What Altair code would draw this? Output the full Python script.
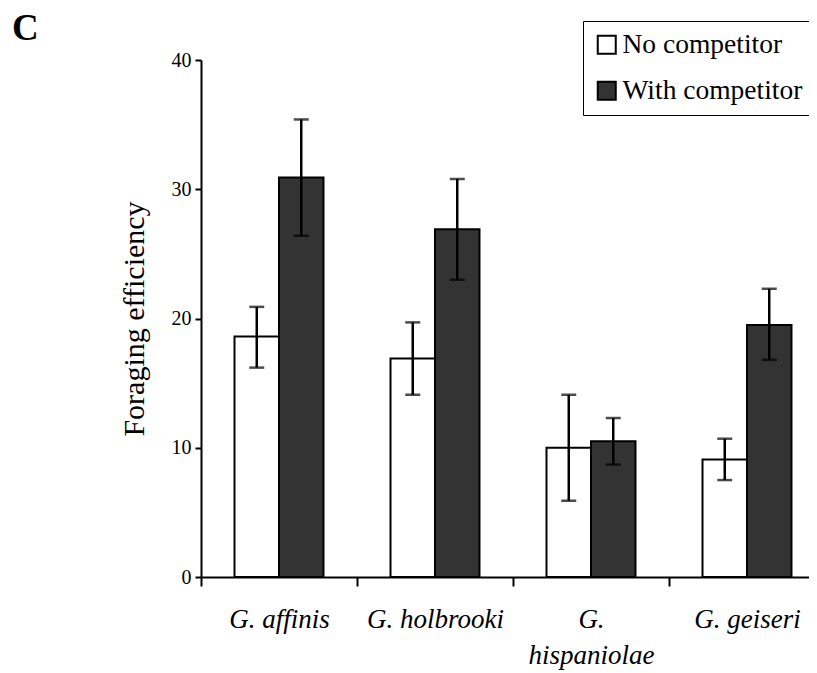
import altair as alt
import pandas as pd

species = ["G. affinis", "G. holbrooki", "G. hispaniolae", "G. geiseri"]
groups = ["No competitor", "With competitor"]
no_comp = [18.6, 16.9, 10.0, 9.1]
no_comp_lo = [16.2, 14.1, 5.9, 7.5]
no_comp_hi = [20.9, 19.7, 14.1, 10.7]
with_comp = [30.9, 26.9, 10.5, 19.5]
with_comp_lo = [26.4, 23.0, 8.7, 16.8]
with_comp_hi = [35.4, 30.8, 12.3, 22.3]
y_ticks = [0, 10, 20, 30, 40]

rows = []
for i, s in enumerate(species):
    rows.append(dict(species=s, group=groups[0], value=no_comp[i], lo=no_comp_lo[i], hi=no_comp_hi[i]))
    rows.append(dict(species=s, group=groups[1], value=with_comp[i], lo=with_comp_lo[i], hi=with_comp_hi[i]))
df = pd.DataFrame(rows)

FONT = "Liberation Serif"

x_enc = alt.X(
    "species:N", sort=species,
    scale=alt.Scale(paddingInner=0, paddingOuter=0, range=[0, 624]),
    axis=alt.Axis(
        title=None, labelAngle=0, tickBand="extent", labelFontStyle="italic",
        labelFontSize=27, labelPadding=20, tickSize=9, labelLineHeight=36,
        labelExpr="datum.label == 'G. hispaniolae' ? ['G.', 'hispaniolae'] : datum.label",
    ),
)
xoff = alt.XOffset("group:N", sort=groups, scale=alt.Scale(paddingInner=0, paddingOuter=0.753))

base = alt.Chart(df)

bars = base.mark_bar(stroke="black", strokeWidth=2).encode(
    x=x_enc,
    xOffset=xoff,
    y=alt.Y(
        "value:Q", scale=alt.Scale(domain=[0, 40]),
        axis=alt.Axis(
            title="Foraging efficiency", values=y_ticks, tickSize=6, labelFontSize=20,
            labelPadding=4, titleFontSize=30, titleFontWeight="normal", titlePadding=22,
        ),
    ),
    fill=alt.Fill(
        "group:N", sort=groups,
        scale=alt.Scale(domain=groups, range=["white", "#333333"]),
        legend=alt.Legend(
            title=None, orient="none", legendX=382, legendY=-39, symbolType="square",
            symbolSize=324, symbolStrokeColor="black", symbolStrokeWidth=2,
            labelFont=FONT, labelFontSize=27.5, labelColor="black", strokeColor="black",
            padding=10, rowPadding=17, labelOffset=2, labelLimit=400,
        ),
    ),
)

rule = base.mark_rule(color="black", strokeWidth=2.5).encode(
    x=alt.X("species:N", sort=species), xOffset=alt.XOffset("group:N", sort=groups),
    y="lo:Q", y2="hi:Q",
)
cap_lo = base.mark_tick(color="black", thickness=2.5, size=15, orient="horizontal").encode(
    x=alt.X("species:N", sort=species), xOffset=alt.XOffset("group:N", sort=groups), y="lo:Q",
)
cap_hi = base.mark_tick(color="black", thickness=2.5, size=15, orient="horizontal").encode(
    x=alt.X("species:N", sort=species), xOffset=alt.XOffset("group:N", sort=groups), y="hi:Q",
)

chart = alt.layer(bars, rule, cap_lo, cap_hi).properties(
    width=608, height=517,
    autosize=alt.AutoSizeParams(type="none"),
    padding={"left": 193, "top": 52, "right": 0, "bottom": 96},
    title=alt.TitleParams(
        text="C", anchor="start", frame="group", font=FONT, fontSize=37,
        fontWeight="bold", color="black", dx=-189, dy=31,
    ),
).configure_axis(
    labelFont=FONT, titleFont=FONT, labelColor="black", titleColor="black",
    domainColor="black", tickColor="black", domainWidth=2, tickWidth=2, grid=False,
).configure_view(stroke=None)

chart.save("out.html", embed_options={"renderer": "svg", "actions": False})
